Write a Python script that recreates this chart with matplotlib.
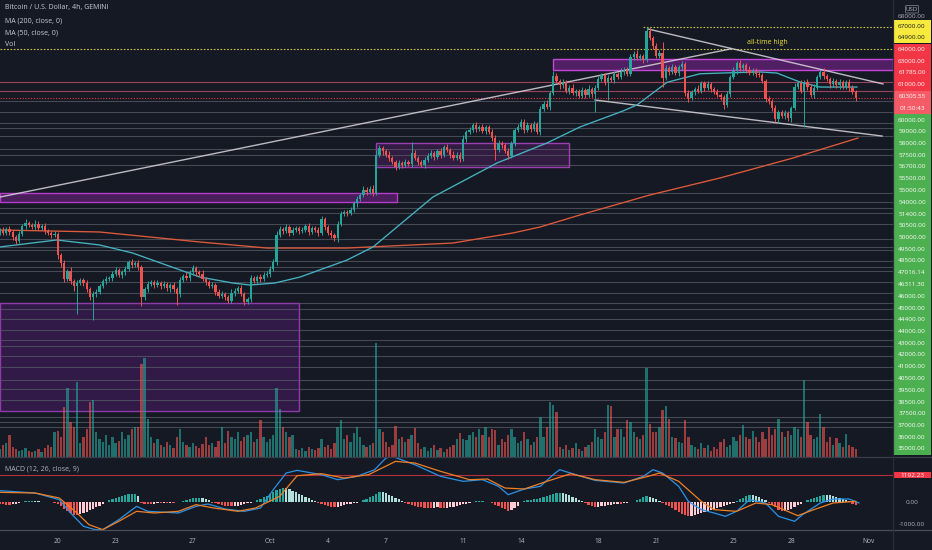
import numpy as np
import matplotlib
matplotlib.use("Agg")
import matplotlib.pyplot as plt
from matplotlib.patches import Rectangle, FancyBboxPatch
from matplotlib.lines import Line2D

# ======================= DATA =======================
# 4h candles, index 0 = 17 Sep 2021 00:00 UTC; prices in thousand USD
first_open = 47.7
close = [
    47.9, 47.6, 48.0, 47.7, 47.2, 46.9, 47.5, 48.3, 48.6, 48.4,
    48.2, 48.5, 48.1, 48.3, 47.8, 47.6, 47.4, 47.5, 45.5, 44.8,
    43.3, 44.0, 43.1, 42.6, 42.9, 43.2, 42.9, 42.3, 41.6, 41.9,
    42.1, 42.6, 43.1, 43.3, 43.4, 43.8, 44.1, 43.7, 43.9, 44.2,
    44.9, 44.6, 44.8, 44.4, 41.6, 42.3, 42.8, 43.0, 42.7, 42.9,
    42.6, 42.8, 42.4, 42.7, 42.3, 41.9, 43.2, 43.6, 43.4, 43.9,
    44.3, 43.9, 43.8, 43.3, 43.0, 42.6, 42.7, 42.1, 41.7, 41.9,
    41.6, 41.2, 42.0, 42.2, 42.4, 41.9, 41.1, 41.4, 43.4, 43.1,
    43.5, 43.3, 43.7, 43.8, 44.2, 44.9, 47.4, 48.0, 47.8, 48.2,
    47.6, 47.9, 48.1, 47.8, 47.9, 48.3, 47.7, 48.1, 47.9, 47.6,
    48.9, 48.2, 47.6, 47.4, 47.1, 48.5, 49.4, 49.6, 49.5, 49.8,
    50.4, 50.8, 51.2, 51.7, 51.5, 51.8, 51.4, 55.0, 55.6, 55.3,
    55.0, 54.7, 54.3, 53.8, 54.2, 54.0, 54.3, 54.1, 55.1, 54.7,
    54.3, 54.0, 54.5, 54.9, 55.1, 54.8, 55.3, 55.0, 55.7, 55.4,
    55.0, 54.7, 55.0, 54.6, 56.5, 57.1, 57.3, 57.8, 57.4, 57.6,
    57.2, 57.6, 57.1, 56.6, 55.4, 56.1, 55.9, 55.3, 54.9, 56.1,
    57.3, 57.6, 58.1, 57.3, 57.8, 57.4, 57.9, 57.1, 59.3, 59.8,
    59.5, 60.8, 62.4, 61.9, 61.5, 61.8, 61.0, 61.3, 60.8, 61.0,
    60.5, 61.1, 60.6, 61.2, 60.7, 61.3, 62.1, 62.5, 61.8, 62.2,
    62.0, 62.6, 62.3, 62.8, 63.0, 62.6, 64.2, 64.5, 64.1, 64.3,
    63.9, 66.6, 66.0, 65.2, 64.3, 64.6, 62.2, 63.1, 62.8, 63.2,
    62.7, 63.2, 63.5, 60.8, 60.3, 60.9, 61.2, 61.0, 61.7, 61.3,
    61.6, 61.2, 60.9, 60.6, 60.4, 59.7, 60.7, 62.3, 62.9, 63.6,
    63.1, 63.4, 63.0, 62.7, 62.9, 62.6, 62.5, 61.9, 60.2, 60.0,
    59.4, 58.3, 59.0, 58.6, 58.9, 58.4, 59.4, 61.4, 61.7, 61.0,
    61.8, 61.4, 60.6, 61.3, 62.3, 62.8, 62.4, 62.1, 61.6, 61.9,
    61.5, 61.8, 61.4, 61.8, 61.3, 60.9, 60.305,
]
# wick lengths beyond the body, in hundreds of USD
wick_hi = [
    2, 3, 2, 3, 2, 2, 3, 2, 3, 1,  2, 3, 2, 2, 3, 2, 2, 3, 2, 2,
    3, 2, 4, 2, 3, 2, 2, 3, 2, 3,  2, 2, 2, 3, 2, 2, 3, 2, 2, 3,
    2, 3, 2, 3, 2, 2, 3, 2, 2, 3,  2, 3, 2, 2, 3, 2, 3, 2, 3, 2,
    3, 2, 2, 3, 2, 2, 3, 2, 2, 3,  2, 2, 3, 2, 2, 3, 2, 2, 3, 2,
    2, 3, 2, 2, 3, 3, 4, 3, 2, 3,  2, 3, 2, 2, 3, 2, 3, 2, 2, 3,
    3, 2, 2, 3, 2, 2, 3, 2, 2, 3,  2, 3, 2, 3, 2, 2, 3, 4, 3, 2,
    2, 3, 2, 2, 3, 2, 3, 2, 11, 3, 2, 2, 3, 2, 3, 2, 2, 3, 2, 3,
    2, 3, 2, 2, 3, 2, 3, 2, 3, 2,  3, 2, 2, 3, 2, 3, 2, 2, 3, 2,
    2, 3, 2, 2, 3, 2, 3, 2, 3, 2,  3, 2, 5, 3, 2, 3, 2, 2, 3, 2,
    2, 3, 2, 3, 2, 2, 3, 2, 2, 3,  2, 3, 2, 3, 2, 2, 3, 2, 3, 2,
    2, 4, 3, 2, 3, 2, 10, 3, 2, 3, 2, 2, 3, 2, 3, 2, 2, 3, 2, 2,
    3, 2, 2, 3, 2, 2, 3, 2, 3, 2,  3, 2, 2, 3, 2, 2, 3, 2, 2, 3,
    2, 3, 2, 2, 3, 2, 2, 3, 2, 3,  2, 3, 2, 3, 2, 2, 3, 2, 2, 3,
    2, 3, 2, 2, 3, 2, 2,
]
wick_lo = [
    3, 2, 2, 3, 2, 3, 2, 2, 3, 2,  2, 3, 2, 2, 3, 2, 3, 2, 3, 4,
    3, 2, 3, 4, 26, 2, 3, 2, 3, 22, 3, 2, 2, 3, 2, 3, 2, 2, 3, 2,
    2, 3, 2, 3, 9, 3, 2, 2, 3, 2,  3, 2, 2, 3, 2, 11, 3, 2, 2, 3,
    2, 3, 2, 2, 3, 2, 2, 3, 2, 2,  3, 2, 2, 3, 2, 2, 3, 2, 3, 2,
    2, 3, 2, 2, 3, 2, 3, 2, 3, 2,  3, 2, 2, 3, 2, 2, 3, 2, 2, 3,
    2, 3, 2, 3, 2, 3, 2, 2, 3, 2,  2, 3, 2, 2, 3, 2, 3, 2, 2, 3,
    2, 3, 2, 3, 2, 3, 2, 2, 3, 2,  3, 2, 3, 2, 2, 3, 2, 3, 2, 2,
    3, 2, 2, 3, 2, 3, 2, 2, 3, 2,  2, 3, 2, 3, 9, 2, 3, 2, 3, 2,
    3, 2, 2, 3, 2, 3, 2, 2, 3, 2,  2, 3, 2, 2, 3, 2, 2, 3, 2, 3,
    2, 2, 3, 2, 3, 17, 2, 2, 3, 17, 2, 3, 2, 2, 3, 2, 2, 3, 2, 2,
    3, 2, 2, 3, 2, 2, 8, 2, 3, 2,  2, 3, 2, 3, 4, 2, 3, 2, 2, 3,
    2, 3, 2, 2, 3, 4, 2, 3, 2, 3,  2, 2, 3, 2, 2, 3, 2, 2, 3, 2,
    3, 2, 3, 2, 3, 2, 3, 2, 2, 2,  34, 3, 2, 3, 2, 2, 3, 2, 3, 2,
    2, 3, 2, 2, 3, 2, 3,
]
# volume, relative units
volume = [
    8, 12, 14, 22, 10, 8, 6, 7, 9, 6,   5, 6, 8, 5, 9, 12, 10, 25, 26, 20,
    50, 69, 35, 30, 75, 14, 20, 28, 55, 57,  25, 18, 15, 22, 12, 20, 14, 16, 25, 18,
    22, 28, 30, 30, 93, 99, 38, 20, 14, 18,  12, 10, 15, 12, 9, 20, 28, 15, 12, 10,
    14, 11, 9, 13, 20, 12, 14, 10, 16, 30,  14, 26, 20, 18, 25, 16, 20, 22, 25, 15,
    18, 37, 20, 15, 18, 22, 69, 48, 30, 25,  20, 22, 8, 7, 9, 6, 10, 8, 7, 9,
    18, 10, 12, 8, 14, 30, 37, 18, 22, 15,  24, 30, 20, 12, 10, 12, 14, 114, 28, 25,
    15, 10, 12, 31, 18, 20, 15, 18, 22, 29,  14, 8, 10, 6, 9, 12, 7, 9, 5, 8,
    10, 12, 18, 24, 18, 17, 22, 25, 20, 28,  22, 30, 20, 28, 27, 12, 18, 15, 22, 28,
    20, 14, 16, 25, 18, 12, 15, 20, 40, 20,  30, 55, 52, 45, 10, 8, 12, 7, 9, 14,
    8, 6, 10, 12, 15, 28, 20, 18, 25, 52,  51, 20, 28, 28, 20, 37, 35, 25, 20, 18,
    22, 89, 33, 25, 25, 30, 47, 51, 38, 20,  19, 15, 14, 37, 20, 12, 10, 8, 14, 9,
    12, 6, 10, 8, 15, 18, 10, 12, 20, 16,  22, 32, 20, 18, 26, 20, 15, 25, 18, 30,
    22, 28, 38, 25, 20, 26, 22, 30, 28, 20,  77, 35, 22, 18, 20, 43, 30, 15, 20, 12,
    19, 14, 10, 23, 12, 10, 8,
]
# MACD histogram per candle
hist = [
    -68, -90, -112, -112, -90, -68, -45,
    22, 36, 45, 45, 36, 27, 18, 14, 9, 0, -22,
    -90, -180, -292, -405, -495, -562, -572, -540, -495, -428, -360, -292, -225, -158, -90,
    22, 68, 112, 158, 202, 248, 292, 338, 369, 374, 270,
    -45, -68, -68, -90, -68, -45, -45, -22, -45, -22, -22, 0,
    22, 45, 90, 135, 158, 180, 180, 158, 112, 68,
    -22, -45, -90, -135, -158, -180, -194, -180, -158, -135, -90, -45, -22,
    22, 68, 135, 202, 270, 360, 450, 540, 585, 630, 608, 562, 495, 428, 360, 292, 225, 158, 90, 45,
    -22, -68, -112, -158, -202, -225, -202, -180, -135, -90, -68, -45, -22,
    22, 68, 135, 202, 270, 360, 436, 428, 382, 315, 248, 180, 112, 45,
    -22, -68, -112, -158, -202, -225, -248, -270, -270, -248, -225, -248, -270, -248, -225, -202, -180, -135, -90, -68, -22,
    22, 45, 45, 45, 22, 14,
    -45, -112, -180, -248, -315, -405, -360, -270, -158,
    22, 45, 68, 90, 112, 135, 158, 202, 248, 292, 338, 382, 405, 382, 338, 292, 225, 158, 90, 45,
    -45, -112, -180, -225, -202, -180, -158, -135, -112, -90, -68, -68, -45, -22, -14,
    22, 68, 135, 202, 256, 225, 180, 112, 45,
    -45, -112, -180, -270, -360, -450, -518, -585, -616, -608, -562, -518, -472, -428, -382, -338, -292, -248, -202, -158, -112, -68, -22,
    45, 112, 180, 270, 328, 315, 270, 202, 135, 68,
    -45, -135, -225, -338, -418, -405, -360, -292, -202, -135, -68,
    22, 68, 112, 158, 225, 270, 328, 315, 292, 270, 225, 180, 135, 90, 45,
    -68, -122,
]
macd_x = [0, 11, 18.5, 22, 26, 29.6, 32, 37, 42.5, 46, 55.5, 61, 64.7, 70, 76, 81, 85, 89, 92.4,
          100, 105, 111, 116.5, 120, 122, 129, 137, 144, 150, 155, 158, 163, 168, 172, 174, 179,
          185, 194, 200, 203, 206, 211, 214, 218, 222, 225.5, 229, 233, 238, 242, 247, 249.5,
          255, 259, 264, 267]
macd_v = [503, 400, 104, -488, -1080, -1228, -1228, -784, -192, -414, -488, -192, -89, -311, -414,
          -266, 548, 1288, 1406, 1214, 992, 1140, 1436, 1954, 2028, 1658, 1140, 918, 992, 696, 326,
          577, 696, 1214, 1436, 1214, 962, 844, 1140, 1436, 1288, 696, 30, -340, -488, -636, -414,
          104, -44, -636, -858, -562, -44, 133, 133, -44]
sig_x = [0, 11, 18.5, 24, 27.7, 32, 37, 42.5, 48, 55.5, 61, 66.5, 74, 79.5, 87, 92.4, 100, 107,
         114.6, 123, 129, 137, 146, 151.6, 157, 163, 170, 177.5, 185, 194, 201.5, 205, 211, 218,
         222, 229, 235, 240, 248, 253, 259, 266]
sig_v = [429, 400, 178, -488, -1006, -1228, -858, -414, -488, -414, -118, -266, -414, -266, 252,
         1169, 1258, 1066, 1214, 1806, 1732, 1362, 992, 1021, 622, 577, 918, 1258, 992, 873, 1140,
         1288, 918, 30, -340, -414, -44, -118, -607, -340, -44, 30]
signal_alert = 1192.23

ma50_x = [0, 17.7, 31, 41.3, 62.2, 72.4, 77.7, 85.5, 93.3, 107.9, 116, 134.6, 154.5, 170, 180.3,
          193.7, 198, 207.4, 217.6, 227.8, 236.2, 241.5, 248.7, 254.9, 266.4]
ma50_v = [46.3, 46.96, 46.49, 45.73, 43.47, 42.91, 42.72, 42.91, 43.47, 45.07, 46.3, 51.0, 54.2,
          56.08, 57.59, 59.1, 59.66, 61.8, 62.6, 62.7, 62.77, 62.67, 61.82, 61.35, 61.35]
ma200_x = [0, 31, 62.2, 83, 107.9, 140.8, 159.5, 167.9, 180.3, 202, 223.8, 246.5, 266.7]
ma200_v = [47.9, 47.71, 46.77, 46.2, 46.2, 46.67, 47.62, 48.18, 49.31, 51.19, 52.79, 54.67, 56.55]

# horizontal levels (USD)
levels = [67000, 64900, 64000, 63000, 61785, 61000, 60000, 59000, 58000, 57500, 56700, 55500,
          55000, 54000, 51400, 50500, 50000, 49500, 48500, 47016.14, 46311.30, 46000, 45000,
          44400, 44000, 43000, 42000, 41000, 40500, 39500, 38500, 37500, 37000, 36000, 35000]
extra_levels = [33800, 32900, 31900, 30300, 29800, 29400]
ath_levels = [67000, 64900]
current_price = 60305.55
countdown = "01:50:43"

# drawn boxes: (start idx, end idx, low k, high k)
boxes = [(171.9, 277.6, 63.0, 64.0), (0.06, 123.4, 50.5, 51.4),
         (116.9, 176.9, 53.8, 56.1), (0.06, 92.9, 30.9, 41.0)]
trendlines = [((0.06, 51.0), (227.0, 64.93)), ((201.5, 66.81), (274.5, 61.64)),
              ((185.0, 60.13), (274.2, 56.74))]

date_ticks = [18, 36, 60, 84, 102, 120, 144, 162, 186, 204, 228, 246, 270]
date_labels = ["20", "23", "27", "Oct", "4", "7", "11", "14", "18", "21", "25", "28", "Nov"]

# ======================= STYLE =======================
BG = "#151924"
GREEN = "#26a69a"
RED = "#ef5350"
TXT = "#b2b5be"
W, H = 932, 550
plt.rcParams["font.family"] = ["Open Sans", "DejaVu Sans"]

fig = plt.figure(figsize=(W / 100, H / 100), dpi=100, facecolor=BG)

XL = (0.06, 277.6)
ax = fig.add_axes([0, 1 - 457 / H, 893 / W, 457 / H])
ax.set_facecolor(BG)
ax.set_xlim(*XL)
ax.set_ylim(26.537, 69.541)
ax.set_xticks([]); ax.set_yticks([])
for s in ax.spines.values():
    s.set_visible(False)

# level lines
for lv in levels + extra_levels:
    k = lv / 1000
    if lv == 67000:
        ax.plot([199.9, XL[1]], [k, k], color="#c9c23a", lw=0.8, ls=(0, (1.5, 1.5)), zorder=2)
    elif lv in ath_levels:
        ax.axhline(k, color="#c9c23a", lw=0.8, ls=(0, (1.5, 1.5)), zorder=2)
    elif lv in (64000, 63000):
        continue
    elif lv > current_price:
        ax.axhline(k, color="#b24a63", lw=0.8, alpha=0.85, zorder=2)
    else:
        ax.axhline(k, color="#565b66", lw=0.75, alpha=0.75, zorder=2)
ax.axhline(current_price / 1000, color="#f23645", lw=0.8, ls=(0, (1, 1.5)), zorder=2)

# boxes
box_styles = [("#9c27b0", 0.45, "#c445d8"), ("#9c27b0", 0.40, "#b43cc8"),
              ("#9c27b0", 0.22, "#9c3fb0"), ("#7b1fa2", 0.28, "#8e3aa8")]
for (x0, x1, p0, p1), (fc, a, ec) in zip(boxes, box_styles):
    ax.add_patch(Rectangle((x0, p0), x1 - x0, p1 - p0, facecolor=fc, alpha=a, lw=0, zorder=1))
    ax.add_patch(Rectangle((x0, p0), x1 - x0, p1 - p0, facecolor="none", edgecolor=ec,
                           lw=1.0, zorder=3))

# trend lines
for (a0, a1) in trendlines:
    ax.plot([a0[0], a1[0]], [a0[1], a1[1]], color="#dcd6de", lw=1.0, alpha=0.85, zorder=4)

# moving averages
ax.plot(ma200_x, ma200_v, color="#e05a3a", lw=0.95, zorder=4)
ax.plot(ma50_x, ma50_v, color="#45b3c0", lw=0.95, zorder=4)

# candles
c = np.array(close)
o = np.array([first_open] + close[:-1])
idx = np.arange(len(c))
up = c >= o
hi = np.maximum(o, c) + np.array(wick_hi) / 10
lo = np.minimum(o, c) - np.array(wick_lo) / 10
cols = np.where(up, GREEN, RED)
ax.vlines(idx, lo, hi, colors=cols, lw=0.7, zorder=5)
ax.bar(idx, np.maximum(np.abs(c - o), 0.06), bottom=np.minimum(o, c), width=0.7,
       color=cols, lw=0, zorder=6)

ax.text(238.6, 65.55, "all-time high", color="#ece23a", fontsize=5.0, ha="center",
        va="center", zorder=7)

# volume
vax = ax.twinx()
vax.set_ylim(0, 457)
vax.set_xlim(*XL)
vax.axis("off")
vax.bar(idx, volume, width=0.72, color=cols, alpha=0.62, lw=0)

# MACD pane
mx = fig.add_axes([0, 1 - 530 / H, 893 / W, 73 / H])
mx.set_facecolor(BG)
mx.set_xlim(*XL)
mx.set_ylim(-1244, 2000)
for s in mx.spines.values():
    s.set_visible(False)
mx.set_yticks([])
hcol = []
for i, h in enumerate(hist):
    prev = hist[i - 1] if i > 0 else h
    if h >= 0:
        hcol.append("#26a69a" if h >= prev else "#b2dfdb")
    else:
        hcol.append("#ffcdd2" if h > prev else "#ef5350")
mx.bar(idx, hist, width=0.7, color=hcol, lw=0, zorder=2)
mx.axhline(signal_alert, color="#b0303c", lw=0.8, zorder=1)
mx.plot(macd_x, macd_v, color="#2a93e8", lw=0.9, zorder=3)
mx.plot(sig_x, sig_v, color="#f07f22", lw=0.9, zorder=3)
mx.set_xticks(date_ticks)
mx.set_xticklabels(date_labels)
mx.tick_params(axis="x", length=0, pad=6, labelsize=4.8, labelcolor=TXT)

# separators
fig.add_artist(Line2D([0, 1], [1 - 457 / H] * 2, color="#3a3e4a", lw=0.9))
fig.add_artist(Line2D([0, 1], [1 - 530 / H] * 2, color="#4a4e59", lw=0.9))
fig.add_artist(Line2D([893 / W] * 2, [0, 1], color="#2a2e39", lw=0.9))


def ftxt(x, y, s, **kw):
    kw.setdefault("va", "center")
    kw.setdefault("fontsize", 5.0)
    kw.setdefault("color", "#c9ccd4")
    fig.text(x / W, 1 - y / H, s, **kw)


ftxt(5, 8, "Bitcoin / U.S. Dollar, 4h, GEMINI")
ftxt(5, 21, "MA (200, close, 0)")
ftxt(5, 33, "MA (50, close, 0)")
ftxt(5, 45, "Vol")
ftxt(5, 469, "MACD (12, 26, close, 9)", color=TXT)

# right price label column
ra = fig.add_axes([893 / W, 1 - 457 / H, 39 / W, 457 / H])
ra.set_xlim(0, 39); ra.set_ylim(457, 0); ra.axis("off")
rows = []
inserted = False
for lv in levels:
    if not inserted and lv < current_price:
        rows.append(("%.2f" % current_price, "cur"))
        rows.append((countdown, "cur2"))
        inserted = True
    if lv in ath_levels:
        kind = "yel"
    elif lv > current_price:
        kind = "red"
    else:
        kind = "grn"
    rows.append(("%.2f" % lv, kind))
step = 11.75
for k, (txt, kind) in enumerate(rows):
    yc = 26 + step * k
    if kind == "yel":
        ra.add_patch(Rectangle((1, yc - 5.6), 36.5, 11.2, facecolor="#f7ea3c", lw=0))
        tc = "#131722"
    elif kind == "red":
        ra.add_patch(Rectangle((1, yc - step / 2), 36.5, step, facecolor="#f23645", lw=0))
        tc = "white"
    elif kind == "cur":
        ra.add_patch(Rectangle((1, yc - step / 2), 36.5, step * 2, facecolor="#f45b66", lw=0))
        tc = "white"
    elif kind == "cur2":
        tc = "white"
    else:
        ra.add_patch(Rectangle((1, yc - step / 2), 36.5, step + 0.2, facecolor="#4caf50", lw=0))
        tc = "white"
    ra.text(19, yc, txt, color=tc, fontsize=4.6, ha="center", va="center", zorder=5)
ra.text(19, 17, "68000.00", color=TXT, fontsize=4.6, ha="center", va="center", zorder=3)
ra.add_patch(FancyBboxPatch((12.5, 5.5), 13, 7.5, boxstyle="round,pad=0,rounding_size=1",
                            facecolor=BG, edgecolor="#787b86", lw=0.6, zorder=4))
ra.text(19, 9.3, "USD", color=TXT, fontsize=4.4, ha="center", va="center", zorder=5)

# right MACD labels
rm = fig.add_axes([893 / W, 1 - 530 / H, 39 / W, 73 / H])
rm.set_xlim(0, 39); rm.set_ylim(-1244, 2000); rm.axis("off")
for v, s in [(2000, "2000.00"), (0, "0.00"), (-1000, "-1000.00")]:
    t = rm.text(19, v, s, color=TXT, fontsize=4.6, ha="center", va="center")
    t.set_clip_on(True)
rm.add_patch(Rectangle((1, signal_alert - 130), 36.5, 260, facecolor="#f23645", lw=0))
rm.text(19, signal_alert, "%.2f" % signal_alert, color="white", fontsize=4.6,
        ha="center", va="center")

fig.savefig("out.png", dpi=100, facecolor=BG)
